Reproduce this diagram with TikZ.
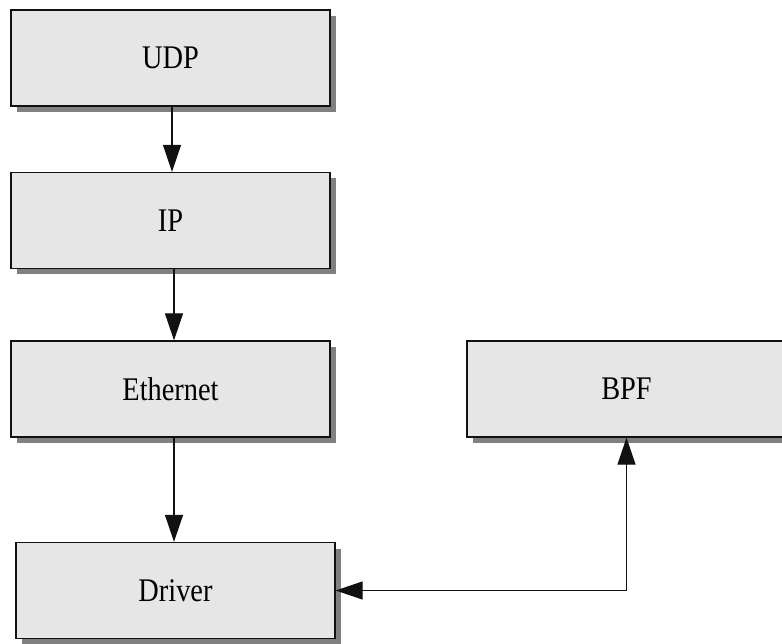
\documentclass[tikz,border=0pt]{standalone}
\usepackage{fontspec}
\newfontfamily\boxfont[FakeStretch=0.86]{Liberation Serif}
\usetikzlibrary{arrows.meta, shadows, calc}
\definecolor{BoxFill}{HTML}{E6E6E6}
\definecolor{BoxShade}{HTML}{808080}
\definecolor{BoxInk}{HTML}{111111}

\begin{document}
\begin{tikzpicture}[x=1pt, y=-1pt,
  layerbox/.style={draw=BoxInk, fill=BoxFill, line width=1.3pt,
    minimum width=319pt, minimum height=96pt, inner sep=0pt,
    font=\boxfont\fontsize{33pt}{33pt}\selectfont,
    drop shadow={shadow xshift=6pt, shadow yshift=-6pt, fill=BoxShade, opacity=1}},
  flow/.style={-{Triangle[length=27pt, width=18pt]}, line width=1.2pt, BoxInk}]
  \useasboundingbox (0,0) rectangle (782,644);
  % protocol stack
  \node[layerbox] (udp) at (170.5,58) {UDP};
  \node[layerbox] (ip) at (170.5,220.5) {IP};
  \node[layerbox] (eth) at (170.5,389) {Ethernet};
  \node[layerbox] (drv) at (175.5,590.5) {Driver};
  \node[layerbox] (bpf) at (626.5,389) {BPF};
  % packets going down
  \draw[flow] ($(udp.south)+(1.5,0)$) -- ($(udp.south |- ip.north)+(1.5,0)$);
  \draw[flow] ($(ip.south)+(3.5,0)$) -- ($(ip.south |- eth.north)+(3.5,0)$);
  \draw[flow] ($(eth.south)+(3.5,0)$) -- ($(eth.south |- drv.north)+(3.5,0)$);
  % tap to the filter
  \draw[flow, {Triangle[length=27pt, width=18pt]}-{Triangle[length=27pt, width=18pt]}]
    (drv.east) -| (bpf.south);
\end{tikzpicture}
\end{document}
